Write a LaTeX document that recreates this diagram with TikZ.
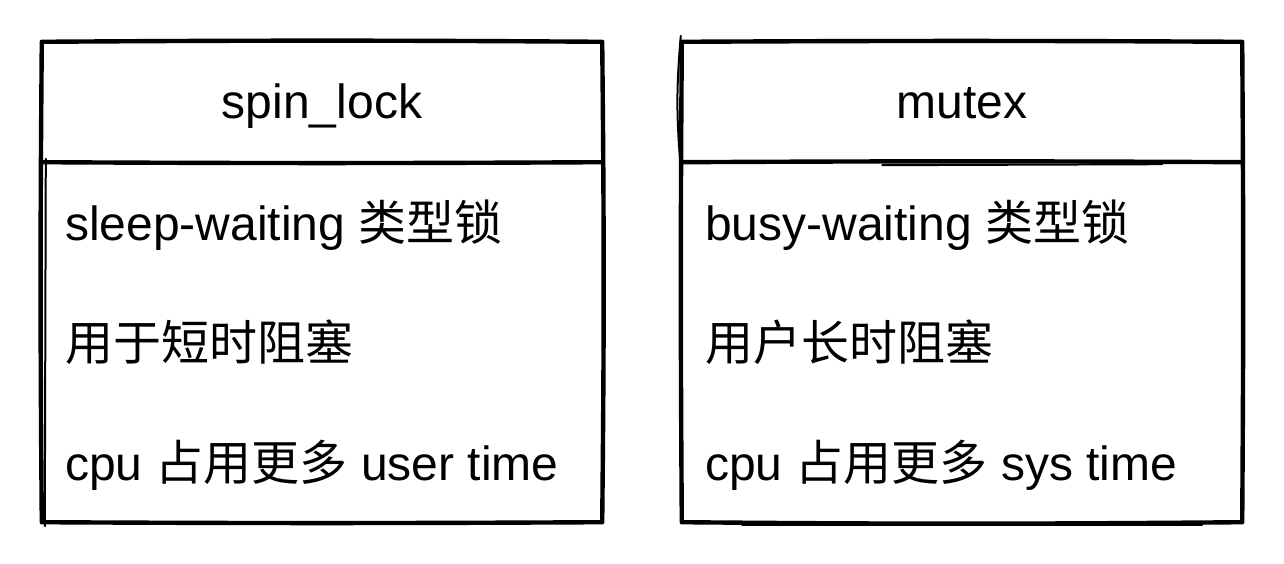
\documentclass[tikz,border=0pt]{standalone}
\usepackage{fontspec}
\setmainfont{Liberation Sans}
\newfontfamily\cjk{Noto Sans CJK SC}
\begin{document}
\begin{tikzpicture}[x=1pt,y=-1pt,
  sketch/.style={line width=4.4pt, line cap=round, line join=round},
  thin sketch/.style={line width=2pt, line cap=round},
  header/.style={minimum width=560pt, minimum height=120pt, inner sep=0pt},
  bodybox/.style={minimum width=560pt, minimum height=360pt, inner sep=0pt},
  title/.style={anchor=base, inner sep=0pt, font=\fontsize{48}{58}\selectfont},
  item/.style={anchor=base west, inner sep=0pt, font=\fontsize{48}{58}\selectfont}]
\useasboundingbox (0,0) rectangle (1284,564);
% left class
\node[header] (h1) at (322,102) {};
\node[title] (t1) at (322,119) {spin\_lock};
\node[bodybox] (b1) at (322,342) {};
\node[item] (l1a) at (65,240) {sleep-waiting {\cjk 类型锁}};
\node[item] (l1b) at (65,360) {{\cjk 用于短时阻塞}};
\node[item] (l1c) at (65,480) {cpu {\cjk 占用更多} user time};
% right class
\node[header] (h2) at (962,102) {};
\node[title] (t2) at (962,119) {mutex};
\node[bodybox] (b2) at (962,342) {};
\node[item] (l2a) at (705,240) {busy-waiting {\cjk 类型锁}};
\node[item] (l2b) at (705,360) {{\cjk 用户长时阻塞}};
\node[item] (l2c) at (705,480) {cpu {\cjk 占用更多} sys time};
% sketchy outlines, left
\draw[sketch] (h1.north west) to[bend left=0.4] (h1.north east)
  to[bend left=0.6] (b1.south east) to[bend left=0.3] (b1.south west)
  to[bend left=0.5] (h1.north west);
\draw[sketch] (h1.south west) to[bend right=0.3] (h1.south east);
\draw[thin sketch] ([xshift=4pt,yshift=3pt]b1.north west) -- ([xshift=3pt,yshift=-4pt]b1.south west);
% sketchy outlines, right
\draw[sketch] (h2.north west) to[bend left=0.3] (h2.north east)
  to[bend left=0.4] (b2.south east) to[bend left=0.5] (b2.south west)
  to[bend left=0.4] (h2.north west);
\draw[sketch] (h2.south west) to[bend left=0.3] (h2.south east);
\draw[thin sketch] ([xshift=-1pt,yshift=6pt]h2.north west) to[bend right=5] ([xshift=-1pt,yshift=-6pt]h2.south west);
\draw[thin sketch] ([xshift=-80pt,yshift=-2pt]h2.south east) -- ([xshift=-360pt,yshift=-3pt]h2.south east);
\draw[thin sketch] ([xshift=-40pt,yshift=-3pt]b2.south east) -- ([xshift=-500pt,yshift=-3pt]b2.south east);
\end{tikzpicture}
\end{document}
